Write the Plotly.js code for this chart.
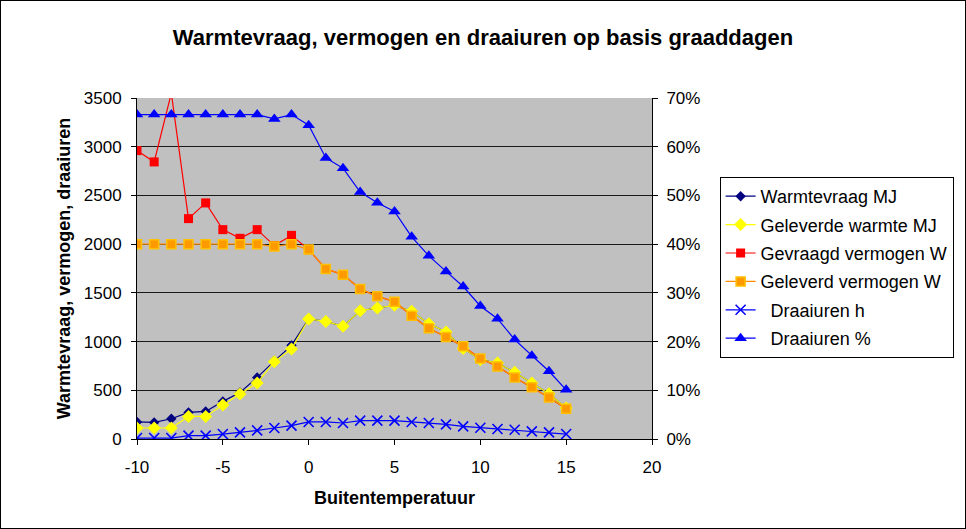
<!DOCTYPE html>
<html>
<head>
<meta charset="utf-8">
<script src="https://cdn.plot.ly/plotly-3.0.1.min.js"></script>
<style>
  html, body { margin: 0; padding: 0; background: #fff; }
  #wrap { position: relative; width: 966px; height: 529px; }
  #chart { width: 966px; height: 529px; }
  #frame { position: absolute; left: 0; top: 0; width: 966px; height: 529px; box-sizing: border-box; border: 1px solid #000; pointer-events: none; }
</style>
</head>
<body>
<div id="wrap"><div id="chart"></div><div id="frame"></div></div>
<script>
// Outside temperature (°C)
const temperatures = [-10,-9,-8,-7,-6,-5,-4,-3,-2,-1,0,1,2,3,4,5,6,7,8,9,10,11,12,13,14,15];

// Left axis series
const warmtevraagMJ = [175,170,208,273,283,386,478,632,800,961,1232,1207,1156,1317,1345,1372,1310,1184,1098,930,814,780,684,575,465,318];
const geleverdeWarmteMJ = [113,113,113,232,232,349,462,575,794,924,1232,1207,1156,1317,1345,1372,1310,1184,1098,930,814,780,684,575,465,318];
const gevraagdVermogenW = [2960,2844,3550,2262,2423,2149,2060,2149,1985,2090,1944,1745,1687,1540,1464,1410,1266,1136,1047,951,826,745,632,530,427,311];
const geleverdVermogenW = [2000,2000,2000,2000,2000,2000,2000,2000,1975,2000,1944,1745,1687,1540,1464,1410,1266,1136,1047,951,826,745,632,530,427,311];
const draaiurenH = [10,10,10,34,34,51,68,88,113,137,175,175,164,188,188,188,175,164,150,129,116,103,95,78,68,51];

// Right axis series (fraction)
const draaiurenPct = [0.666,0.666,0.666,0.666,0.666,0.666,0.666,0.666,0.657,0.666,0.644,0.577,0.556,0.507,0.485,0.467,0.415,0.376,0.344,0.313,0.273,0.247,0.204,0.171,0.139,0.101];

// Tick labels
const xTickVals = [-10,-5,0,5,10,15,20];
const xTickLabels = ["-10","-5","0","5","10","15","20"];

const seriesNames = ["Warmtevraag MJ","Geleverde warmte MJ","Gevraagd vermogen W","Geleverd vermogen W","\u00a0\u00a0Draaiuren h","\u00a0\u00a0Draaiuren %"];

const FONT = "Arial, 'Liberation Sans', sans-serif";

const traces = [
  {x: temperatures, y: warmtevraagMJ, name: seriesNames[0], legendgroup: "a", mode: "lines+markers",
   line: {color: "#000080", width: 1.2}, marker: {symbol: "diamond", size: 8, color: "#000080"}},
  {x: temperatures, y: geleverdeWarmteMJ, name: seriesNames[1], legendgroup: "b", mode: "lines+markers",
   line: {color: "#FFFF00", width: 1.2}, marker: {symbol: "diamond", size: 10, color: "#FFFF00"}},
  {x: temperatures, y: gevraagdVermogenW, name: seriesNames[2], legendgroup: "c", mode: "lines+markers",
   line: {color: "#FF0000", width: 1.2}, marker: {symbol: "square", size: 9, color: "#FF0000"}},
  {x: temperatures, y: geleverdVermogenW, name: seriesNames[3], legendgroup: "d", mode: "lines+markers",
   line: {color: "#FF8C00", width: 1.4}, marker: {symbol: "square", size: 9, color: "#FF9900", line: {color: "#FFC000", width: 1.5}}},
  {x: temperatures, y: draaiurenH, name: seriesNames[4], legendgroup: "e", mode: "lines+markers",
   line: {color: "#0000FF", width: 1.2}, marker: {symbol: "x-thin-open", size: 10, color: "#0000FF", line: {color: "#0000FF", width: 1.6}}},
  {x: temperatures, y: draaiurenPct, name: seriesNames[5], legendgroup: "f", yaxis: "y2", mode: "lines+markers",
   line: {color: "#0000FF", width: 1.2}, marker: {symbol: "triangle-up", size: 11, color: "#0000FF"}}
];

const layout = {
  width: 966, height: 529,
  margin: {l: 137, r: 311, t: 98, b: 90},
  paper_bgcolor: "#FFFFFF",
  plot_bgcolor: "#C0C0C0",
  font: {family: FONT, size: 17, color: "#000"},
  title: {text: "<b>Warmtevraag, vermogen en draaiuren op basis graaddagen</b>", font: {family: FONT, size: 22, color: "#000"},
          x: 0.5, xref: "container", y: 1 - 37/529, yref: "container", yanchor: "middle"},
  xaxis: {
    range: [-10, 20], tickmode: "array", tickvals: xTickVals, ticktext: xTickLabels,
    showgrid: false, zeroline: false,
    showline: true, linecolor: "#000", linewidth: 1,
    ticks: "outside", ticklen: 5, tickcolor: "#000", ticklabelstandoff: 8,
    tickfont: {family: FONT, size: 17, color: "#000"},
    title: {text: "<b>Buitentemperatuur</b>", font: {family: FONT, size: 18, color: "#000"}, standoff: 14}
  },
  yaxis: {
    range: [0, 3500], dtick: 500, showgrid: true, gridcolor: "#1a1a1a", gridwidth: 1, zeroline: false,
    showline: true, linecolor: "#000", linewidth: 1,
    ticks: "outside", ticklen: 5, tickcolor: "#000", ticklabelstandoff: 6,
    tickfont: {family: FONT, size: 17, color: "#000"},
    title: {text: "<b>Warmtevraag, vermogen, draaiuren</b>", font: {family: FONT, size: 18, color: "#000"}, standoff: 8}
  },
  yaxis2: {
    overlaying: "y", side: "right", range: [0, 0.7], dtick: 0.1, tickformat: ".0%",
    showgrid: false, zeroline: false, showline: true, linecolor: "#000", linewidth: 1,
    ticks: "outside", ticklen: 5, tickcolor: "#000", ticklabelstandoff: 5,
    tickfont: {family: FONT, size: 17, color: "#000"}
  },
  legend: {
    x: (723 - 137) / 518, y: (439 - 177) / 341, xanchor: "left", yanchor: "top",
    bgcolor: "#FFFFFF", bordercolor: "#000", borderwidth: 1,
    font: {family: FONT, size: 18, color: "#000"},
    tracegroupgap: 2, traceorder: "grouped"
  },
  showlegend: true
};

Plotly.newPlot("chart", traces, layout, {displayModeBar: false, staticPlot: true});
</script>
</body>
</html>
